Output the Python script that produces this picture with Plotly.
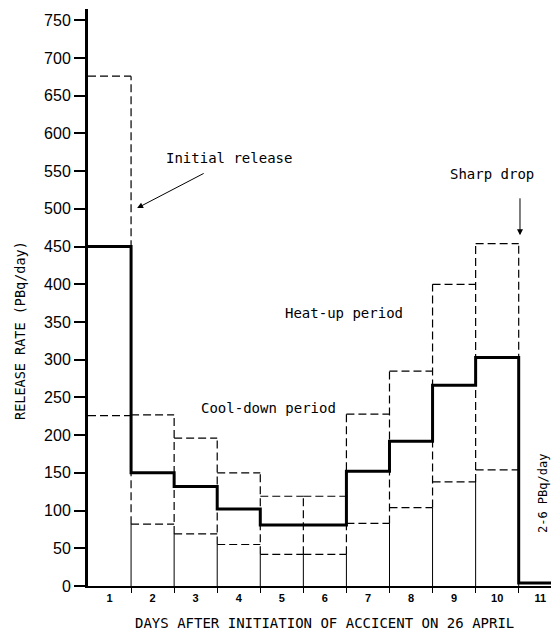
import plotly.graph_objects as go

# ---- data ----
days = list(range(1, 12))
day_labels = [str(d) for d in days]
central = [450, 150, 132, 102, 81, 81, 152, 192, 266, 303, 4]   # best estimate (day 11: 2-6 PBq/day)
upper = [676, 227, 196, 150, 119, 119, 228, 285, 400, 454]       # days 1-10
lower = [226, 82, 69, 55, 42, 42, 83, 104, 138, 154]             # days 1-10
y_ticks = list(range(0, 751, 50))

MONO = "DejaVu Sans Mono"
SANS = "Liberation Sans"

fig = go.Figure()

# thin solid day boundaries below the lower bound, dashed between bounds
sx, sy, vx, vy = [], [], [], []
nb = len(lower)
for i in range(nb):
    b = days[i] + 0.5
    lo_n = lower[i + 1] if i + 1 < nb else lower[i]
    hi_n = upper[i + 1] if i + 1 < nb else upper[i]
    lo = min(lower[i], lo_n)
    hi = max(upper[i], hi_n)
    sx += [b, b, None]
    sy += [0, lo, None]
    vx += [b, b, None]
    vy += [lo, hi, None]

fig.add_trace(go.Scatter(x=sx, y=sy, mode="lines", line=dict(color="black", width=1),
                         hoverinfo="skip"))
fig.add_trace(go.Scatter(x=vx, y=vy, mode="lines",
                         line=dict(color="black", width=1.2, dash="8px,4px"), hoverinfo="skip"))

# dashed horizontal bounds (upper and lower) per day
hx, hy = [], []
for d, lo, hi in zip(days, lower, upper):
    hx += [d - 0.5, d + 0.5, None, d - 0.5, d + 0.5, None]
    hy += [hi, hi, None, lo, lo, None]
fig.add_trace(go.Scatter(x=hx, y=hy, mode="lines",
                         line=dict(color="black", width=1.2, dash="8px,4px"), hoverinfo="skip"))

# central estimate: thick step line
cx = [d - 0.5 for d in days] + [days[-1] + 0.5]
cy = central + [central[-1]]
fig.add_trace(go.Scatter(x=cx, y=cy, mode="lines", line=dict(color="black", width=3, shape="hv"),
                         hoverinfo="skip"))

annots = []
txt_font = dict(family=MONO, size=14, color="black")
annots.append(dict(x=3.77, y=567, xref="x", yref="y", text="Initial release", showarrow=False, font=txt_font))
annots.append(dict(x=1.64, y=501, ax=3.22, ay=548, xref="x", yref="y", axref="x", ayref="y",
                   text="", showarrow=True, arrowhead=2, arrowsize=1.2, arrowwidth=1, arrowcolor="black"))
annots.append(dict(x=9.88, y=546, xref="x", yref="y", text="Sharp drop", showarrow=False, font=txt_font))
annots.append(dict(x=10.53, y=465, ax=10.53, ay=516, xref="x", yref="y", axref="x", ayref="y",
                   text="", showarrow=True, arrowhead=2, arrowsize=1.2, arrowwidth=1, arrowcolor="black"))
annots.append(dict(x=6.44, y=362, xref="x", yref="y", text="Heat-up period", showarrow=False, font=txt_font))
annots.append(dict(x=4.68, y=236, xref="x", yref="y", text="Cool-down period", showarrow=False, font=txt_font))
annots.append(dict(x=11.06, y=123, xref="x", yref="y", text="2-6 PBq/day", textangle=-90,
                   showarrow=False, font=dict(family=MONO, size=12, color="black")))
annots.append(dict(x=(324.5 - 88) / 463, y=(586 - 623) / 577, xref="paper", yref="paper",
                   xanchor="center", yanchor="middle",
                   text="DAYS AFTER INITIATION OF ACCICENT ON 26 APRIL", showarrow=False,
                   font=dict(family=MONO, size=14, color="black")))
annots.append(dict(x=(20 - 88) / 463, y=(586 - 331) / 577, xref="paper", yref="paper",
                   xanchor="center", yanchor="middle",
                   text="RELEASE RATE (PBq/day)", textangle=-90, showarrow=False,
                   font=dict(family=MONO, size=13.5, color="black")))

fig.update_layout(
    width=551, height=633,
    margin=dict(l=88, r=0, t=9, b=47, autoexpand=False),
    paper_bgcolor="white", plot_bgcolor="white",
    showlegend=False,
    annotations=annots,
    xaxis=dict(range=[0.5, 11.25], tickmode="array", tickvals=days, ticktext=day_labels,
               automargin=False,
               ticks="outside", ticklen=1, tickcolor="rgba(0,0,0,0)",
               showline=True, linecolor="black", linewidth=2, showgrid=False, zeroline=False,
               tickfont=dict(family=SANS, size=11, color="black", weight="bold"),
               minor=dict(tickmode="array", tickvals=[d + 0.5 for d in days[:-1]], ticks="outside",
                          ticklen=5, tickcolor="black", tickwidth=1, showgrid=False)),
    yaxis=dict(range=[0, 765], tickmode="array", tickvals=y_ticks, ticks="outside", ticklen=11,
               automargin=False,
               tickwidth=1.5, tickcolor="black", showline=True, linecolor="black", linewidth=3,
               showgrid=False, zeroline=False,
               tickfont=dict(family=SANS, size=16, color="black")),
)

fig.write_html("out.html", config={"displayModeBar": False},
               post_script="document.body.style.margin='0';")
